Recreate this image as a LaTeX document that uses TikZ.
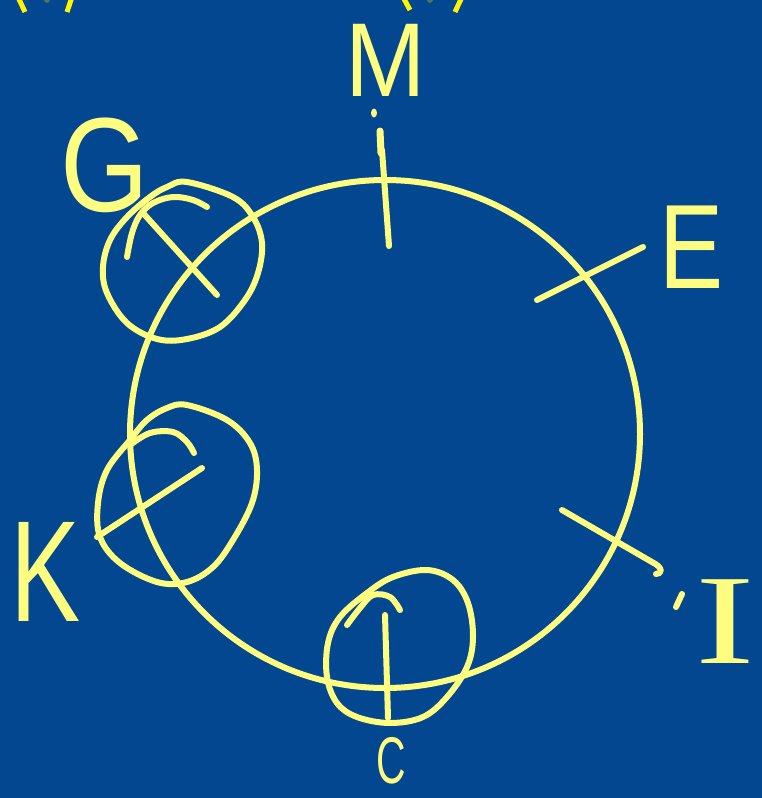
\documentclass[tikz,border=0pt]{standalone}
\usepackage{fontspec}
\setmainfont{Liberation Sans}
\newfontfamily\serifI{Liberation Serif}
\definecolor{bgc}{RGB}{4,71,145}
\definecolor{penc}{RGB}{255,253,128}
\definecolor{hic}{RGB}{255,245,0}
\definecolor{dotc}{RGB}{70,120,90}
\begin{document}
\begin{tikzpicture}[x=1pt,y=-1pt,
  pen/.style={draw=penc, line width=6pt, line cap=round, line join=round},
  topmark/.style={draw=hic, line width=5pt},
  lbl/.style={text=penc, inner sep=0pt, anchor=center}]
\fill[bgc] (0,0) rectangle (762,798);
\useasboundingbox (0,0) rectangle (762,798);
% partial marks at the top edge
\draw[topmark] (18,-3) -- (25,12);
\draw[topmark] (72,-3) -- (67,12);
\draw[topmark] (403,-3) -- (410,10);
\draw[topmark] (462,-3) -- (455,12);
\fill[dotc] (47,0) circle (3pt);
\fill[dotc] (430,0) circle (3pt);
% big ring
\draw[pen] (385,434) ellipse [x radius=255pt, y radius=254pt];
% M tick
\fill[penc] (374,113) ellipse [x radius=3pt, y radius=4.5pt];
\draw[pen, line width=7pt] (380,131) -- (381,153);
\draw[pen] (382,150) -- (389,246);
% E tick
\draw[pen] (537,300) -- (643,247);
% I tick
\draw[pen] (562,510) -- (652,562) .. controls (664,568) and (662,574) .. (656,574);
\draw[pen] (682,594) -- (676,607);
% G circle
\draw[pen] plot[smooth cycle, tension=0.6] coordinates {(187,182) (233,197) (253,217) (262,243) (258,273) (245,300) (220,327) (187,339) (157,339) (127,323) (107,293) (103,267) (110,240) (127,217) (150,197) (167,187)};
\draw[pen] (143,213) -- (217,295);
\draw[pen] plot[smooth, tension=0.6] coordinates {(127,257) (132,233) (140,215) (153,203) (173,197) (193,200) (207,207)};
% K circle
\draw[pen] plot[smooth cycle, tension=0.6] coordinates {(187,405) (227,420) (250,443) (257,470) (252,503) (233,540) (213,567) (187,582) (157,582) (120,563) (100,537) (98,503) (107,470) (130,440) (147,420) (167,408)};
\draw[pen] (97,537) -- (202,468);
\draw[pen] plot[smooth, tension=0.6] coordinates {(130,445) (150,433) (173,432) (187,442) (194,453)};
% C circle
\draw[pen] plot[smooth cycle, tension=0.6] coordinates {(427,570) (453,580) (468,603) (473,637) (467,667) (447,697) (423,717) (390,723) (357,717) (337,703) (327,677) (328,643) (340,617) (367,593) (393,577)};
\draw[pen] (385,615) -- (388,718);
\draw[pen] plot[smooth, tension=0.6] coordinates {(347,625) (360,608) (373,595) (390,597) (400,610)};
% labels
\node[lbl] (M) at (386,60) {\scalebox{0.92}[1]{\fontsize{105}{105}\selectfont M}};
\node[lbl] (G) at (105,165) {\scalebox{0.85}[1]{\fontsize{134}{134}\selectfont G}};
\node[lbl] (E) at (692,247) {\scalebox{0.8}[1]{\fontsize{120}{120}\selectfont E}};
\node[lbl] (K) at (46,572) {\scalebox{0.73}[1]{\fontsize{144}{144}\selectfont K}};
\node[lbl] (I) at (725,622) {\scalebox{1.4}[1]{\fontsize{128}{128}\serifI I}};
\node[lbl] (C) at (391,761) {\scalebox{0.62}[1]{\fontsize{66}{66}\selectfont C}};
\end{tikzpicture}
\end{document}
